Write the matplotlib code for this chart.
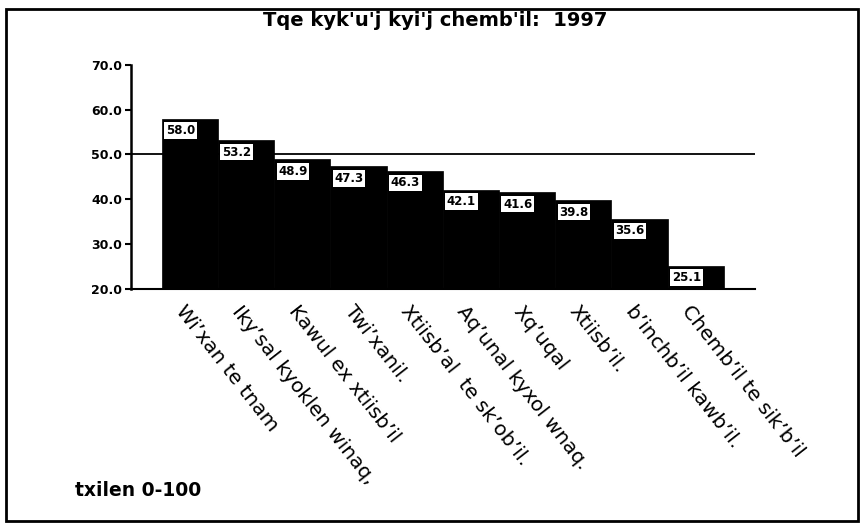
import matplotlib
matplotlib.use("Agg")
import matplotlib.pyplot as plt
from matplotlib.patches import Rectangle
from matplotlib.transforms import blended_transform_factory

title = "Tqe kyk'u'j kyi'j chemb'il:  1997"
categories = ["Wi’xan te tnam", "Iky’sal kyoklen winaq,", "Kawul ex xtiisb’il",
              "Twi’xanil.", "Xtiisb’al  te sk’ob’il.", "Aq’unal kyxol wnaq.",
              "Xq’uqal", "Xtiisb’il.", "b’inchb’il kawb’il.", "Chemb’il te sik’b’il"]
values = [58.0, 53.2, 48.9, 47.3, 46.3, 42.1, 41.6, 39.8, 35.6, 25.1]
yticks = [20.0, 30.0, 40.0, 50.0, 60.0, 70.0]
reference_line = 50.0
note = "txilen 0-100"

plt.rcParams['font.family'] = ['DejaVu Sans']

W, H = 864, 527
fig = plt.figure(figsize=(W / 100, H / 100), dpi=100)
fig.patch.set_facecolor('white')

ax = fig.add_axes([130.7 / W, 1 - 288.5 / H, (755 - 130.7) / W, (288.5 - 65) / H])
x = list(range(len(values)))
ax.bar(x, [v - yticks[0] for v in values], bottom=yticks[0], width=1.0,
       color='black', edgecolor='black', linewidth=0.5, zorder=2)
ax.axhline(reference_line, color='black', lw=1.3, zorder=1)

ax.set_xlim(-1.052, 10.057)
ax.set_ylim(yticks[0], yticks[-1])
ax.set_yticks(yticks)
ax.set_yticklabels([f"{t:.1f}" for t in yticks], fontsize=9, fontweight='bold')
ax.tick_params(axis='y', direction='out', length=4, width=1.5, pad=2)
ax.set_xticks([])
for s in ['top', 'right']:
    ax.spines[s].set_visible(False)
ax.spines['left'].set_linewidth(1.8)
ax.spines['bottom'].set_linewidth(1.5)

for i, v in zip(x, values):
    ax.annotate(f"{v:.1f}", xy=(i - 0.5, v), xytext=(3, -4), textcoords='offset points',
                ha='left', va='top', fontsize=8.5, fontweight='bold', color='black',
                bbox=dict(boxstyle='square,pad=0.15', fc='white', ec='none'), zorder=3)

trans = blended_transform_factory(ax.transData, ax.transAxes)
for i, lab in zip(x, categories):
    ax.text(i - 0.05, -0.06, lab, transform=trans, rotation=-52, rotation_mode='anchor',
            ha='left', va='top', fontsize=14.5, color='black', clip_on=False)

fig.text(435 / W, 1 - 20 / H, title, ha='center', va='center', fontsize=14, fontweight='bold')
fig.text(75 / W, 1 - 490 / H, note, ha='left', va='center', fontsize=13.5, fontweight='bold')

fig.patches.append(Rectangle((6 / W, 1 - 521 / H), (858 - 6) / W, (521 - 9) / H,
                             transform=fig.transFigure, fill=False, ec='black', lw=2))

fig.savefig("out.png", dpi=100)
